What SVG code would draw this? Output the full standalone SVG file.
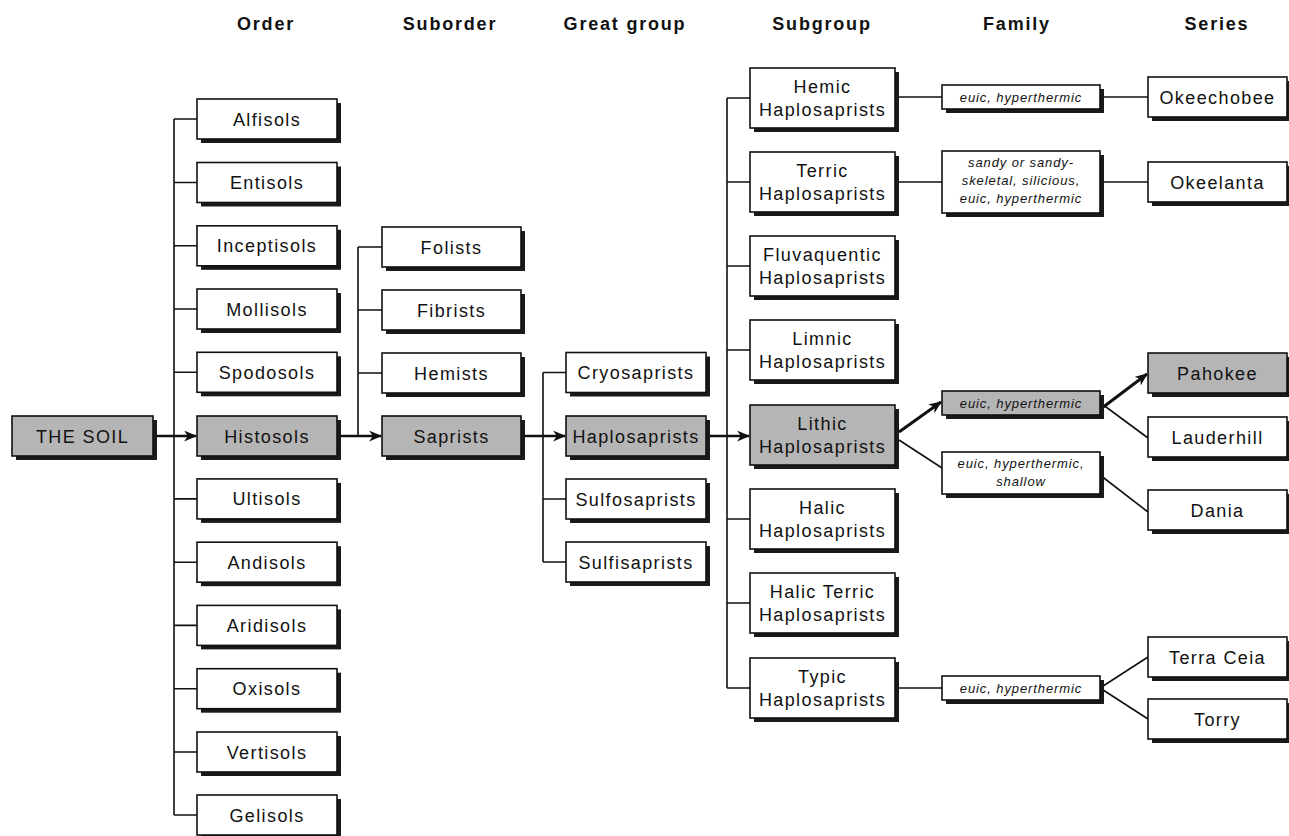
<svg xmlns="http://www.w3.org/2000/svg" width="1289" height="836" viewBox="0 0 1289 836">
<style>
  .hdr{font-family:"Liberation Sans",Arial,sans-serif;font-weight:bold;font-size:18px;letter-spacing:1.8px;text-anchor:middle;fill:#111}
  .bx{fill:#fff;stroke:#111;stroke-width:1.6}
  .g{fill:#b5b5b5}
  .sh{fill:#1a1a1a}
  .t{font-family:"Liberation Sans",Arial,sans-serif;font-size:18px;letter-spacing:1.4px;text-anchor:middle;fill:#111}
  .f{font-family:"Liberation Sans",Arial,sans-serif;font-style:italic;font-size:13px;letter-spacing:0.9px;text-anchor:middle;fill:#111}
  .ln{stroke:#111;stroke-width:1.6;fill:none}
  .ar{stroke:#111;stroke-width:2.4;fill:none}
  .bold{stroke:#111;stroke-width:3;fill:none}
</style>
<defs>
  <marker id="ah" viewBox="0 0 12 10" refX="11" refY="5" markerWidth="13" markerHeight="11" markerUnits="userSpaceOnUse" orient="auto">
    <path d="M0,0 L12,5 L0,10 L3.5,5 z" fill="#111"/>
  </marker>
  <marker id="ah2" viewBox="0 0 12 10" refX="11" refY="5" markerWidth="13" markerHeight="11" markerUnits="userSpaceOnUse" orient="auto">
    <path d="M0,0 L12,5 L0,10 L3.5,5 z" fill="#111"/>
  </marker>
</defs>
<rect width="1289" height="836" fill="#fff"/>

<g id="headers">
  <text class="hdr" x="266" y="30">Order</text>
  <text class="hdr" x="450" y="30">Suborder</text>
  <text class="hdr" x="625" y="30">Great group</text>
  <text class="hdr" x="822" y="30">Subgroup</text>
  <text class="hdr" x="1017" y="30">Family</text>
  <text class="hdr" x="1217" y="30">Series</text>
</g>

<g id="connectors">
  <path class="ln" d="M174,119 V815 M174,119 H197 M174,182.5 H197 M174,245.8 H197 M174,309 H197 M174,372.3 H197 M174,498.9 H197 M174,562.2 H197 M174,625.4 H197 M174,688.7 H197 M174,752 H197 M174,815 H197"/>
  <line class="ar" x1="153" y1="436" x2="196" y2="436" marker-end="url(#ah)"/>
  <path class="ln" d="M358,247 V436 M358,247 H382 M358,310 H382 M358,373 H382"/>
  <line class="ar" x1="337" y1="436" x2="381" y2="436" marker-end="url(#ah)"/>
  <path class="ln" d="M543,372.5 V562 M543,372.5 H566 M543,499 H566 M543,562 H566"/>
  <line class="ar" x1="521" y1="436" x2="565" y2="436" marker-end="url(#ah)"/>
  <path class="ln" d="M727,98 V688 M727,98 H750 M727,182 H750 M727,266 H750 M727,350 H750 M727,519 H750 M727,603 H750 M727,688 H750"/>
  <line class="ar" x1="706" y1="436" x2="749" y2="436" marker-end="url(#ah)"/>
  <path class="ln" d="M895,97 H942 M1100,97 H1148 M895,182 H942 M1100,182 H1148"/>
  <line class="bold" x1="899" y1="432" x2="941" y2="402" marker-end="url(#ah2)"/>
  <line class="ln" x1="899" y1="440" x2="942" y2="468"/>
  <line class="bold" x1="1102" y1="408" x2="1147" y2="374" marker-end="url(#ah2)"/>
  <line class="ln" x1="1102" y1="404" x2="1148" y2="438"/>
  <line class="ln" x1="1100" y1="475" x2="1148" y2="512"/>
  <path class="ln" d="M895,688 H942 M1100,688 L1148,657 M1100,688 L1148,719"/>
</g>

<g id="n-soil"><rect class="sh" x="16" y="420" width="141" height="40"/><rect class="bx g" x="12" y="416" width="141" height="40"/><text class="t" x="82.5" y="442.5">THE SOIL</text></g>

<g id="n-alfisols"><rect class="sh" x="201" y="103" width="140" height="40"/><rect class="bx" x="197" y="99" width="140" height="40"/><text class="t" x="267" y="125.5">Alfisols</text></g>
<g id="n-entisols"><rect class="sh" x="201" y="166.5" width="140" height="40"/><rect class="bx" x="197" y="162.5" width="140" height="40"/><text class="t" x="267" y="189">Entisols</text></g>
<g id="n-inceptisols"><rect class="sh" x="201" y="229.8" width="140" height="40"/><rect class="bx" x="197" y="225.8" width="140" height="40"/><text class="t" x="267" y="252.3">Inceptisols</text></g>
<g id="n-mollisols"><rect class="sh" x="201" y="293" width="140" height="40"/><rect class="bx" x="197" y="289" width="140" height="40"/><text class="t" x="267" y="315.5">Mollisols</text></g>
<g id="n-spodosols"><rect class="sh" x="201" y="356.3" width="140" height="40"/><rect class="bx" x="197" y="352.3" width="140" height="40"/><text class="t" x="267" y="378.8">Spodosols</text></g>
<g id="n-histosols"><rect class="sh" x="201" y="420" width="140" height="40"/><rect class="bx g" x="197" y="416" width="140" height="40"/><text class="t" x="267" y="442.5">Histosols</text></g>
<g id="n-ultisols"><rect class="sh" x="201" y="482.9" width="140" height="40"/><rect class="bx" x="197" y="478.9" width="140" height="40"/><text class="t" x="267" y="505.4">Ultisols</text></g>
<g id="n-andisols"><rect class="sh" x="201" y="546.2" width="140" height="40"/><rect class="bx" x="197" y="542.2" width="140" height="40"/><text class="t" x="267" y="568.7">Andisols</text></g>
<g id="n-aridisols"><rect class="sh" x="201" y="609.4" width="140" height="40"/><rect class="bx" x="197" y="605.4" width="140" height="40"/><text class="t" x="267" y="631.9">Aridisols</text></g>
<g id="n-oxisols"><rect class="sh" x="201" y="672.7" width="140" height="40"/><rect class="bx" x="197" y="668.7" width="140" height="40"/><text class="t" x="267" y="695.2">Oxisols</text></g>
<g id="n-vertisols"><rect class="sh" x="201" y="736" width="140" height="40"/><rect class="bx" x="197" y="732" width="140" height="40"/><text class="t" x="267" y="758.5">Vertisols</text></g>
<g id="n-gelisols"><rect class="sh" x="201" y="799" width="140" height="40"/><rect class="bx" x="197" y="795" width="140" height="40"/><text class="t" x="267" y="821.5">Gelisols</text></g>

<g id="n-folists"><rect class="sh" x="386" y="231" width="139" height="40"/><rect class="bx" x="382" y="227" width="139" height="40"/><text class="t" x="451.5" y="253.5">Folists</text></g>
<g id="n-fibrists"><rect class="sh" x="386" y="294" width="139" height="40"/><rect class="bx" x="382" y="290" width="139" height="40"/><text class="t" x="451.5" y="316.5">Fibrists</text></g>
<g id="n-hemists"><rect class="sh" x="386" y="357" width="139" height="40"/><rect class="bx" x="382" y="353" width="139" height="40"/><text class="t" x="451.5" y="379.5">Hemists</text></g>
<g id="n-saprists"><rect class="sh" x="386" y="420" width="139" height="40"/><rect class="bx g" x="382" y="416" width="139" height="40"/><text class="t" x="451.5" y="442.5">Saprists</text></g>

<g id="n-cryosaprists"><rect class="sh" x="570" y="356.5" width="140" height="40"/><rect class="bx" x="566" y="352.5" width="140" height="40"/><text class="t" x="636" y="379">Cryosaprists</text></g>
<g id="n-haplosaprists"><rect class="sh" x="570" y="420" width="140" height="40"/><rect class="bx g" x="566" y="416" width="140" height="40"/><text class="t" x="636" y="442.5">Haplosaprists</text></g>
<g id="n-sulfosaprists"><rect class="sh" x="570" y="483" width="140" height="40"/><rect class="bx" x="566" y="479" width="140" height="40"/><text class="t" x="636" y="505.5">Sulfosaprists</text></g>
<g id="n-sulfisaprists"><rect class="sh" x="570" y="546" width="140" height="40"/><rect class="bx" x="566" y="542" width="140" height="40"/><text class="t" x="636" y="568.5">Sulfisaprists</text></g>

<g id="n-hemic"><rect class="sh" x="754" y="72" width="145" height="60"/><rect class="bx" x="750" y="68" width="145" height="60"/><text class="t" x="822.5" y="93">Hemic</text><text class="t" x="822.5" y="116">Haplosaprists</text></g>
<g id="n-terric"><rect class="sh" x="754" y="156" width="145" height="60"/><rect class="bx" x="750" y="152" width="145" height="60"/><text class="t" x="822.5" y="177">Terric</text><text class="t" x="822.5" y="200">Haplosaprists</text></g>
<g id="n-fluvaquentic"><rect class="sh" x="754" y="240" width="145" height="60"/><rect class="bx" x="750" y="236" width="145" height="60"/><text class="t" x="822.5" y="261">Fluvaquentic</text><text class="t" x="822.5" y="284">Haplosaprists</text></g>
<g id="n-limnic"><rect class="sh" x="754" y="324" width="145" height="60"/><rect class="bx" x="750" y="320" width="145" height="60"/><text class="t" x="822.5" y="345">Limnic</text><text class="t" x="822.5" y="368">Haplosaprists</text></g>
<g id="n-lithic"><rect class="sh" x="754" y="409" width="145" height="60"/><rect class="bx g" x="750" y="405" width="145" height="60"/><text class="t" x="822.5" y="430">Lithic</text><text class="t" x="822.5" y="453">Haplosaprists</text></g>
<g id="n-halic"><rect class="sh" x="754" y="493" width="145" height="60"/><rect class="bx" x="750" y="489" width="145" height="60"/><text class="t" x="822.5" y="514">Halic</text><text class="t" x="822.5" y="537">Haplosaprists</text></g>
<g id="n-halicterric"><rect class="sh" x="754" y="577" width="145" height="60"/><rect class="bx" x="750" y="573" width="145" height="60"/><text class="t" x="822.5" y="598">Halic Terric</text><text class="t" x="822.5" y="621">Haplosaprists</text></g>
<g id="n-typic"><rect class="sh" x="754" y="662" width="145" height="60"/><rect class="bx" x="750" y="658" width="145" height="60"/><text class="t" x="822.5" y="683">Typic</text><text class="t" x="822.5" y="706">Haplosaprists</text></g>

<g id="f-hemic"><rect class="sh" x="946" y="89" width="158" height="24"/><rect class="bx" x="942" y="85" width="158" height="24"/><text class="f" x="1021" y="101.5">euic, hyperthermic</text></g>
<g id="f-terric"><rect class="sh" x="946" y="155" width="158" height="62"/><rect class="bx" x="942" y="151" width="158" height="62"/><text class="f" x="1021" y="167">sandy or sandy-</text><text class="f" x="1021" y="185">skeletal, silicious,</text><text class="f" x="1021" y="203">euic, hyperthermic</text></g>
<g id="f-lithic1"><rect class="sh" x="946" y="395" width="158" height="24"/><rect class="bx g" x="942" y="391" width="158" height="24"/><text class="f" x="1021" y="407.5">euic, hyperthermic</text></g>
<g id="f-lithic2"><rect class="sh" x="946" y="456" width="158" height="42"/><rect class="bx" x="942" y="452" width="158" height="42"/><text class="f" x="1021" y="468">euic, hyperthermic,</text><text class="f" x="1021" y="486">shallow</text></g>
<g id="f-typic"><rect class="sh" x="946" y="680" width="158" height="24"/><rect class="bx" x="942" y="676" width="158" height="24"/><text class="f" x="1021" y="692.5">euic, hyperthermic</text></g>

<g id="s-okeechobee"><rect class="sh" x="1152" y="81" width="139" height="40"/><rect class="bx" x="1148" y="77" width="139" height="40"/><text class="t" x="1217.5" y="103.5">Okeechobee</text></g>
<g id="s-okeelanta"><rect class="sh" x="1152" y="166" width="139" height="40"/><rect class="bx" x="1148" y="162" width="139" height="40"/><text class="t" x="1217.5" y="188.5">Okeelanta</text></g>
<g id="s-pahokee"><rect class="sh" x="1152" y="357" width="139" height="40"/><rect class="bx g" x="1148" y="353" width="139" height="40"/><text class="t" x="1217.5" y="379.5">Pahokee</text></g>
<g id="s-lauderhill"><rect class="sh" x="1152" y="421" width="139" height="40"/><rect class="bx" x="1148" y="417" width="139" height="40"/><text class="t" x="1217.5" y="443.5">Lauderhill</text></g>
<g id="s-dania"><rect class="sh" x="1152" y="494" width="139" height="40"/><rect class="bx" x="1148" y="490" width="139" height="40"/><text class="t" x="1217.5" y="516.5">Dania</text></g>
<g id="s-terraceia"><rect class="sh" x="1152" y="641" width="139" height="40"/><rect class="bx" x="1148" y="637" width="139" height="40"/><text class="t" x="1217.5" y="663.5">Terra Ceia</text></g>
<g id="s-torry"><rect class="sh" x="1152" y="703" width="139" height="40"/><rect class="bx" x="1148" y="699" width="139" height="40"/><text class="t" x="1217.5" y="725.5">Torry</text></g>
</svg>
